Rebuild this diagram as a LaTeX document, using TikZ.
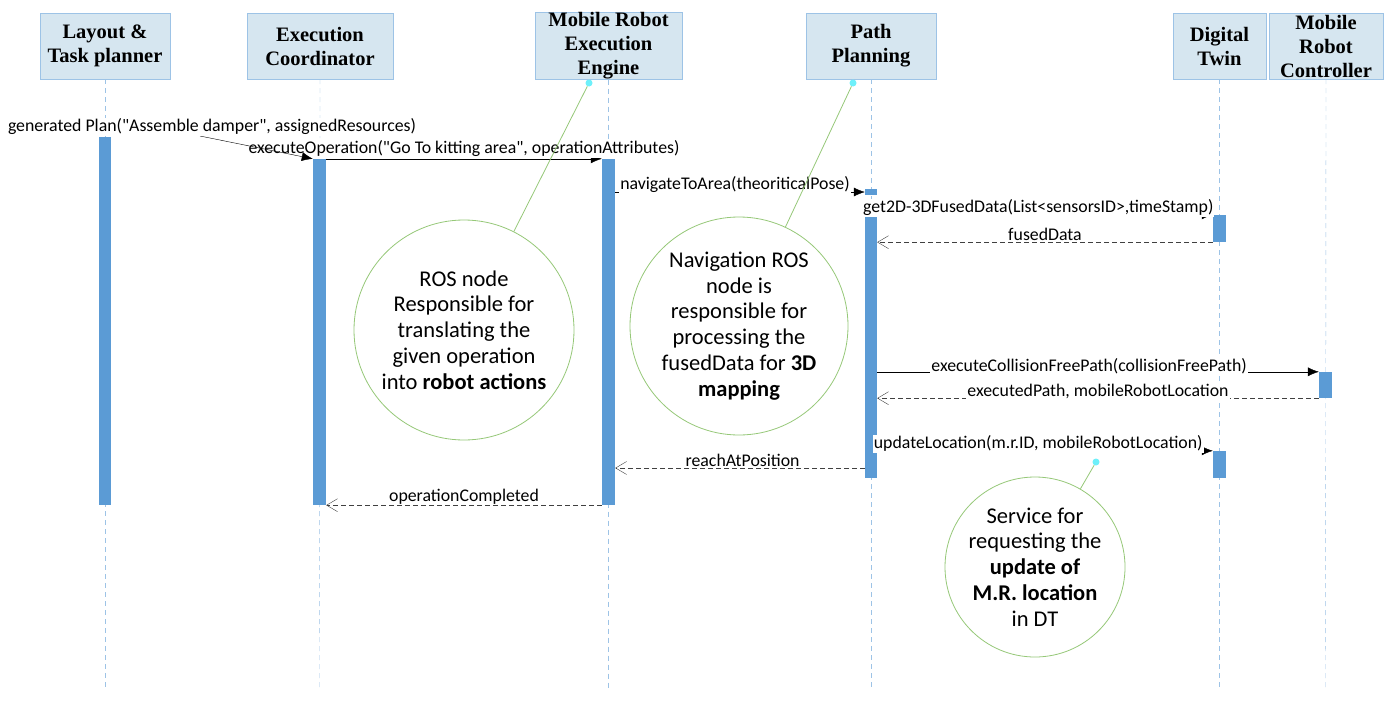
\documentclass[tikz,border=0pt]{standalone}
\usepackage{fontspec}
\setmainfont{Liberation Serif}
\newfontfamily\msgfont{Carlito}
\usepackage{tikz}
\usetikzlibrary{arrows.meta, positioning}
\definecolor{headfill}{RGB}{214,230,240}
\definecolor{headline}{RGB}{157,195,230}
\definecolor{barblue}{RGB}{91,155,213}
\definecolor{notegreen}{RGB}{150,200,120}
\definecolor{pincyan}{RGB}{110,240,250}

\begin{document}
\begin{tikzpicture}[x=1pt, y=-1pt,
  head/.style={draw=headline, fill=headfill, inner sep=0pt, minimum height=66pt, align=center, font=\bfseries\fontsize{20.5}{24}\selectfont},
  life/.style={draw=headline, dash pattern=on 5pt off 4pt},
  bar/.style={fill=barblue, inner sep=0pt, minimum width=13pt},
  call/.style={-{Latex[length=11pt,width=9pt]}, black},
  reply/.style={-{Straight Barb[length=11pt,width=13pt]}, black!75, dash pattern=on 5pt off 3pt},
  lbl/.style={fill=white, inner sep=1pt, text=black, font=\msgfont\fontsize{17.8}{19}\selectfont},
  note/.style={circle, draw=notegreen, line width=0.8pt, align=center, inner sep=0pt, font=\msgfont\fontsize{22.5}{25.8}\selectfont},
  pin/.style={circle, fill=pincyan, inner sep=0pt, minimum size=7pt},
  noteline/.style={draw=notegreen, line width=0.8pt}]
\fill[white] (0,0) rectangle (1392,704);
\useasboundingbox (0,0) rectangle (1392,704);

% lifeline heads
\node[head, minimum width=130pt] (h1) at (105,46) {Layout \&\\Task planner};
\node[head, minimum width=146pt] (h2) at (320,46) {Execution\\Coordinator};
\node[head, minimum width=147pt] (h3) at (608.5,46) {Mobile Robot\\Execution\\Engine};
\node[head, minimum width=130pt] (h4) at (871,46) {Path\\Planning};
\node[head, minimum width=93pt] (h5) at (1219.5,46) {Digital\\Twin};
\node[head, minimum width=114pt] (h6) at (1326,46) {Mobile\\Robot\\Controller};

\coordinate (e1) at (105,690);
\coordinate (e2) at (319.5,690);
\coordinate (e3) at (608.5,690);
\coordinate (e4) at (871,690);
\coordinate (e5) at (1219.5,690);
\coordinate (e6) at (1325.5,690);
\foreach \i in {1,...,6}
  \draw[life] (h\i.south) -- (e\i);

% activation bars
\node[bar, minimum width=12pt, minimum height=368pt] (b1) at (105,321) {};
\node[bar, minimum height=346pt] (b2) at (319.5,332) {};
\node[bar, minimum height=346pt] (b3) at (608.5,332) {};
\node[bar, minimum width=12pt, minimum height=6pt] (b4) at (871,192) {};
\node[bar, minimum width=12pt, minimum height=261pt] (b5) at (871,347.5) {};
\node[bar, minimum height=27pt] (b6) at (1219.5,228.5) {};
\node[bar, minimum height=27pt] (b7) at (1219.5,464.5) {};
\node[bar, minimum height=26pt] (b8) at (1325.5,385) {};

% messages
\coordinate (f0) at (200,136);
\coordinate (c9) at (865,468);
\draw[call] (b2.north east) -- (b3.north west) node[lbl, pos=.5, above, yshift=1pt]{executeOperation("Go To kitting area", operationAttributes)};
\draw[call] (f0) -- (b2.north west) node[lbl, pos=0, anchor=south, xshift=12pt]{generated Plan("Assemble damper", assignedResources)};
\draw[call] (b3.east |- b4.west) -- (b4.west) node[lbl, pos=.48, above, yshift=-2pt]{navigateToArea(theoriticalPose)};
\draw[call] (b5.east |- b6.north west) -- (b6.north west) node[lbl, pos=.48, above, yshift=-2pt]{get2D-3DFusedData(List<sensorsID>,timeStamp)};
\draw[reply] (b6.south west) -- (b5.east |- b6.south west) node[lbl, pos=.5, above, yshift=0pt]{fusedData};
\draw[call] (b5.east |- b8.north west) -- (b8.north west) node[lbl, pos=.48, above, yshift=-3pt]{executeCollisionFreePath(collisionFreePath)};
\draw[reply] (b8.south west) -- (b5.east |- b8.south west) node[lbl, pos=.5, above, yshift=-2pt]{executedPath, mobileRobotLocation};
\draw[call] (b5.east |- b7.north west) -- (b7.north west) node[lbl, pos=.48, above, yshift=-2pt]{updateLocation(m.r.ID, mobileRobotLocation)};
\draw[reply] (c9) -- (b3.east |- c9) node[lbl, pos=.49, above, yshift=0pt]{reachAtPosition};
\draw[reply] (b3.south west) -- (b2.south east) node[lbl, pos=.5, above, yshift=0pt]{operationCompleted};

% notes
\node[note, minimum size=220pt] (n1) at (464,330) {ROS node\\Responsible for\\translating the\\given operation\\into \textbf{robot actions}};
\node[note, minimum size=218pt] (n2) at (739,326) {Navigation ROS\\node is\\responsible for\\processing the\\fusedData for \textbf{3D}\\\textbf{mapping}};
\node[note, minimum size=180pt] (n3) at (1035,567) {Service for\\requesting the\\\textbf{update of}\\\textbf{M.R. location}\\in DT};
\node[pin] (p1) at (589,83) {};
\node[pin] (p2) at (853,83) {};
\node[pin] (p3) at (1096,462) {};
\draw[noteline] (n1) -- (p1);
\draw[noteline] (n2) -- (p2);
\draw[noteline] (n3) -- (p3);
\end{tikzpicture}
\end{document}
